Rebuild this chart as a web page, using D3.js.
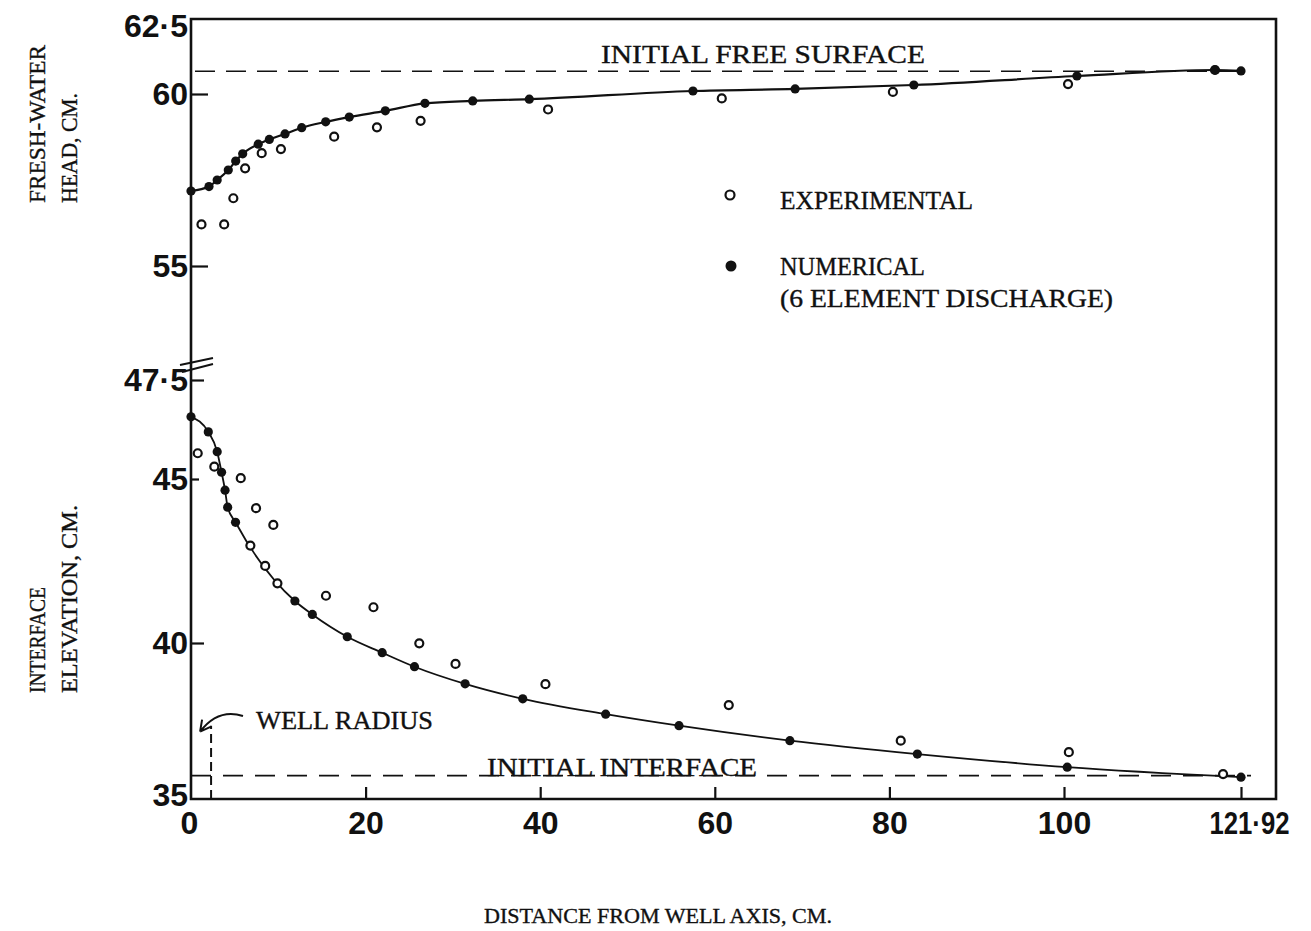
<!DOCTYPE html>
<html>
<head>
<meta charset="utf-8">
<script src="https://cdn.jsdelivr.net/npm/d3@7"></script>
<style>
  body { margin: 0; background: #fff; }
  .type { font-family: "Liberation Serif", "DejaVu Serif", serif; fill: #111; stroke: #111; stroke-width: 0.35; }
  .tick text { font-family: "Liberation Sans", Arial, sans-serif; font-weight: bold; font-size: 32px; fill: #111; }
  .tick line { stroke: #111; stroke-width: 2.2; }
</style>
</head>
<body>
<div id="chart"></div>
<script>
"use strict";

// distance from well axis, cm
const xTicks = [0, 20, 40, 60, 80, 100, 121.92];
const headTicks = [55, 60, 62.5];
const interfaceTicks = [35, 40, 45, 47.5];

// fresh-water head, cm
const headNumX = [0, 2.06, 3.0, 4.27, 5.12, 5.92, 7.7, 8.97, 10.77, 12.68, 15.43, 18.13, 22.26, 26.8, 32.27, 38.75, 57.5, 69.2, 82.8, 101.6, 118.7, 121.92];
const headNumY = [57.18, 57.31, 57.5, 57.79, 58.05, 58.26, 58.54, 58.68, 58.84, 59.02, 59.19, 59.33, 59.51, 59.73, 59.8, 59.85, 60.1, 60.17, 60.3, 60.6, 60.8, 60.77];
const headExpX = [1.2, 3.8, 4.85, 6.2, 8.1, 10.3, 16.4, 21.3, 26.3, 40.9, 60.8, 80.4, 100.5, 118.7];
const headExpY = [56.21, 56.21, 56.97, 57.84, 58.28, 58.4, 58.76, 59.03, 59.22, 59.55, 59.87, 60.07, 60.33, 60.8];

// interface elevation, cm
const intNumX = [0, 1.98, 3.0, 3.5, 3.9, 4.2, 5.1, 11.9, 13.9, 17.9, 21.9, 25.6, 31.4, 38.0, 47.5, 55.9, 68.6, 83.2, 100.4, 121.92];
const intNumY = [46.57, 46.19, 45.69, 45.17, 44.66, 44.14, 43.68, 41.28, 40.87, 40.19, 39.69, 39.24, 38.69, 38.21, 37.72, 37.35, 36.87, 36.44, 36.02, 35.7];
const intExpX = [0.77, 2.67, 5.7, 7.45, 9.43, 6.8, 8.5, 9.9, 15.46, 20.9, 26.15, 30.3, 40.6, 61.6, 81.3, 100.6, 119.7];
const intExpY = [45.65, 45.31, 45.02, 44.11, 43.6, 42.97, 42.35, 41.82, 41.44, 41.09, 39.99, 39.33, 38.68, 38.01, 36.87, 36.5, 35.8];

const initialFreeSurface = 60.76;
const initialInterface = 35.75;
const wellRadius = 2.3;
const wellMarkTop = 37.35;

const width = 1311, height = 931;

const svg = d3.select("#chart").append("svg")
    .attr("width", width)
    .attr("height", height)
    .style("background", "#fff");

// the scanned figure is not quite linear, so piecewise scales follow its ticks
const x = d3.scaleLinear().domain([0, 100, 121.92]).range([191, 1064, 1241]);
const yHead = d3.scaleLinear().domain([55, 60, 62.5]).range([266, 94, 19]);
const yInt = d3.scaleLinear().domain([35, 40, 45, 47.5]).range([799, 643, 479, 380]);

const fmt = (d) => String(d).replace(".", "·");
const right = 1276;

// frame
svg.append("path")
    .attr("d", `M${x(0)},${yHead(62.5)}H${right}V${yInt(35)}H${x(0)}Z`)
    .attr("fill", "none")
    .attr("stroke", "#111")
    .attr("stroke-width", 2.6);

// axis break marks
svg.append("path")
    .attr("d", `M180,${yInt(47.5) - 15}L213,${yInt(47.5) - 22}M182,${yInt(47.5) - 8}L213,${yInt(47.5) - 16}`)
    .attr("stroke", "#111")
    .attr("stroke-width", 2);

// axes
const gx = svg.append("g")
    .attr("transform", `translate(0,${yInt(35)})`)
    .call(d3.axisBottom(x).tickValues(xTicks).tickSize(-12).tickPadding(12).tickFormat(fmt));
gx.select(".domain").remove();
gx.selectAll(".tick").filter((d) => d === 0).select("line").remove();
gx.selectAll(".tick").filter((d) => d === 0).select("text").attr("dx", -2);
gx.selectAll(".tick").filter((d) => d === 121.92).select("text").attr("textLength", 80).attr("lengthAdjust", "spacingAndGlyphs").attr("dx", 8);

const gh = svg.append("g")
    .attr("transform", `translate(${x(0)},0)`)
    .call(d3.axisLeft(yHead).tickValues(headTicks).tickSize(-17).tickPadding(3).tickFormat(fmt));
gh.select(".domain").remove();
gh.selectAll(".tick").filter((d) => d === 62.5).select("line").remove();
gh.selectAll(".tick").filter((d) => d === 62.5).select("text").attr("dy", "0.55em");

const gi = svg.append("g")
    .attr("transform", `translate(${x(0)},0)`)
    .call(d3.axisLeft(yInt).tickValues(interfaceTicks).tickSize(-13).tickPadding(3).tickFormat(fmt));
gi.select(".domain").remove();
gi.selectAll(".tick").filter((d) => d === 35).select("line").remove();
gi.selectAll(".tick").filter((d) => d === 35).select("text").attr("dy", "0.2em");
gi.selectAll(".tick").filter((d) => d === 45).select("line").attr("x2", 8);

// initial levels
svg.append("line")
    .attr("x1", x(0) + 4).attr("x2", x(121.92) + 6)
    .attr("y1", yHead(initialFreeSurface)).attr("y2", yHead(initialFreeSurface))
    .attr("stroke", "#111").attr("stroke-width", 1.6)
    .attr("stroke-dasharray", "20,11");

svg.append("line")
    .attr("x1", x(0)).attr("x2", x(121.92) + 10)
    .attr("y1", yInt(initialInterface)).attr("y2", yInt(initialInterface))
    .attr("stroke", "#111").attr("stroke-width", 1.6)
    .attr("stroke-dasharray", "20,12");

// well radius marker
svg.append("line")
    .attr("x1", x(wellRadius)).attr("x2", x(wellRadius))
    .attr("y1", yInt(35)).attr("y2", yInt(wellMarkTop))
    .attr("stroke", "#111").attr("stroke-width", 2)
    .attr("stroke-dasharray", "9,5");

const ax = x(wellRadius) - 11, ay = yInt(wellMarkTop) + 6;
svg.append("path")
    .attr("d", `M243,716 Q218,708 ${ax},${ay} M${ax},${ay} L${ax + 2},${ay - 12} M${ax},${ay} L${ax + 11},${ay - 5}`)
    .attr("fill", "none")
    .attr("stroke", "#111").attr("stroke-width", 2);

// curves through the numerical solution
const zip = (xs, ys) => xs.map((v, i) => [v, ys[i]]);
const headNum = zip(headNumX, headNumY);
const headExp = zip(headExpX, headExpY);
const intNum = zip(intNumX, intNumY);
const intExp = zip(intExpX, intExpY);

svg.append("path")
    .datum(headNum)
    .attr("fill", "none").attr("stroke", "#111").attr("stroke-width", 2.2)
    .attr("d", d3.line().x((d) => x(d[0])).y((d) => yHead(d[1])).curve(d3.curveMonotoneX));

svg.append("path")
    .datum(intNum)
    .attr("fill", "none").attr("stroke", "#111").attr("stroke-width", 1.8)
    .attr("d", d3.line().x((d) => x(d[0])).y((d) => yInt(d[1])).curve(d3.curveMonotoneX));

const dots = (data, y) => svg.append("g").selectAll("circle")
    .data(data).join("circle")
    .attr("cx", (d) => x(d[0]))
    .attr("cy", (d) => y(d[1]))
    .attr("r", 4.6)
    .attr("fill", "#111");

const rings = (data, y) => svg.append("g").selectAll("circle")
    .data(data).join("circle")
    .attr("cx", (d) => x(d[0]))
    .attr("cy", (d) => y(d[1]))
    .attr("r", 4)
    .attr("fill", "#fff")
    .attr("stroke", "#111")
    .attr("stroke-width", 2.2);

rings(headExp, yHead);
rings(intExp, yInt);
dots(headNum, yHead);
dots(intNum, yInt);

// texts
const label = (txt, px, py, len, size, rot) => svg.append("text")
    .attr("class", "type")
    .attr("transform", `translate(${px},${py})` + (rot ? " rotate(-90)" : ""))
    .attr("font-size", size)
    .attr("textLength", len)
    .attr("lengthAdjust", "spacingAndGlyphs")
    .text(txt);

label("INITIAL FREE SURFACE", 601, 63, 324, 25);
label("INITIAL INTERFACE", 487, 776, 270, 25);
label("WELL RADIUS", 256, 729, 177, 25);

// legend
svg.append("circle").attr("cx", 730).attr("cy", 195).attr("r", 4.5)
    .attr("fill", "#fff").attr("stroke", "#111").attr("stroke-width", 2.2);
svg.append("circle").attr("cx", 731).attr("cy", 266).attr("r", 5.5).attr("fill", "#111");
label("EXPERIMENTAL", 780, 209, 193, 25);
label("NUMERICAL", 780, 275, 145, 25);
label("(6 ELEMENT DISCHARGE)", 780, 307, 333, 25);

// axis titles
label("DISTANCE FROM WELL AXIS, CM.", 484, 923, 348, 22);
label("FRESH-WATER", 45, 203, 158, 23, true);
label("HEAD, CM.", 77, 203, 110, 23, true);
label("INTERFACE", 45, 693, 106, 23, true);
label("ELEVATION, CM.", 77, 693, 188, 23, true);
</script>
</body>
</html>
